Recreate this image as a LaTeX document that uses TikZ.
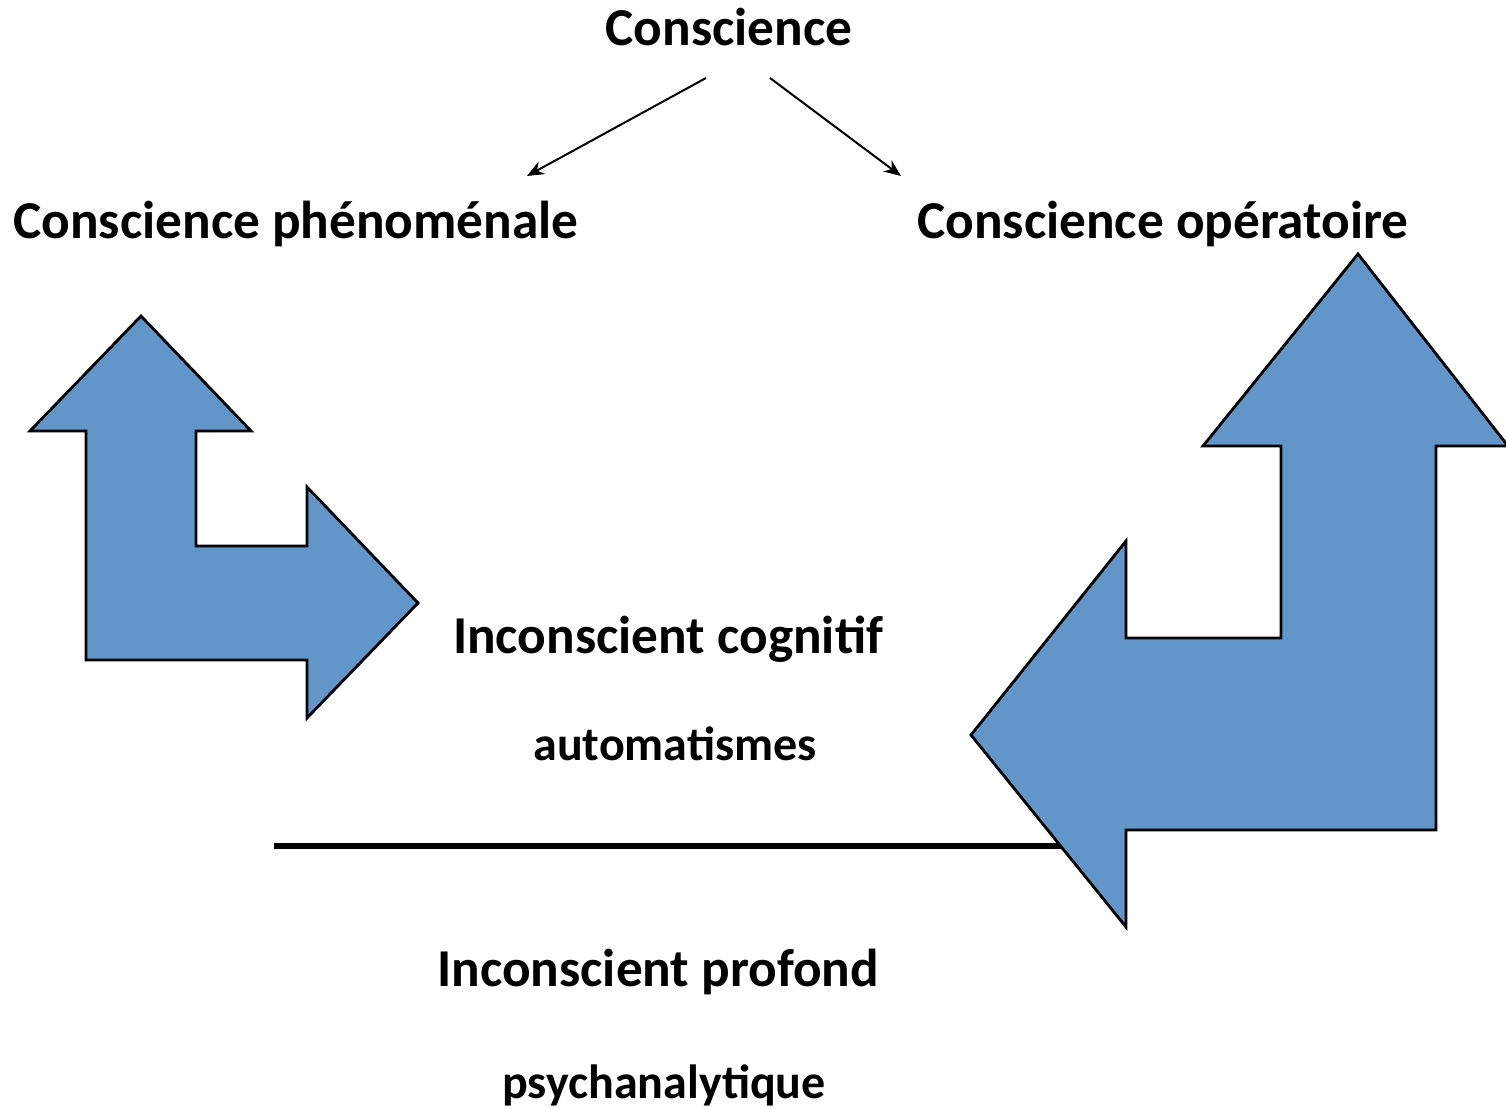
\documentclass[tikz,border=0pt]{standalone}
\usepackage{fontspec}
\setmainfont{Carlito}
\usetikzlibrary{arrows.meta}
\definecolor{arrowblue}{RGB}{98,150,201}
\tikzset{
  big/.style={font=\fontsize{53.3}{60}\selectfont\bfseries, anchor=base, inner sep=0pt},
  small/.style={font=\fontsize{48}{52}\selectfont\bfseries, anchor=base, inner sep=0pt},
  blockarrow/.style={fill=arrowblue, draw=black, line width=2.8pt, line join=miter},
  thin/.style={line width=2pt, -{Stealth[length=17pt,width=14pt]}},
}
\begin{document}
\begin{tikzpicture}[x=1pt,y=-1pt]
\useasboundingbox (0,0) rectangle (1506,1108);
% texts
\node[big] (cons) at (729,46) {Conscience};
\node[big] (phen) at (296,238) {Conscience phénoménale};
\node[big] (oper) at (1163,238) {Conscience opératoire};
\node[big] (cogn) at (668,653) {Inconscient cognitif};
\node[small] (auto) at (675,760) {automatismes};
\node[big] (prof) at (658,986) {Inconscient profond};
\node[small] (psy) at (664,1098) {psychanalytique};
% thin arrows
\coordinate (c1) at (706,78);
\coordinate (p1) at (527,176);
\coordinate (c2) at (770,78);
\coordinate (o1) at (901,176);
\draw[thin] (c1) -- (p1);
\draw[thin] (c2) -- (o1);
% separating line
\coordinate (l1) at (274,846);
\coordinate (l2) at (1100,846);
\draw[line width=5.5pt] (l1) -- (l2);
% left bent arrow
\draw[blockarrow] (141,316) -- (251,431) -- (196,431) -- (196,546) -- (307,546) -- (307,487)
  -- (418,603) -- (307,718) -- (307,660) -- (86,660) -- (86,431) -- (30,431) -- cycle;
% right bent arrow
\draw[blockarrow] (1358,254) -- (1508,446) -- (1436,446) -- (1436,830) -- (1126,830) -- (1126,927)
  -- (971,735) -- (1126,541) -- (1126,638) -- (1281,638) -- (1281,446) -- (1203,446) -- cycle;
\end{tikzpicture}
\end{document}
